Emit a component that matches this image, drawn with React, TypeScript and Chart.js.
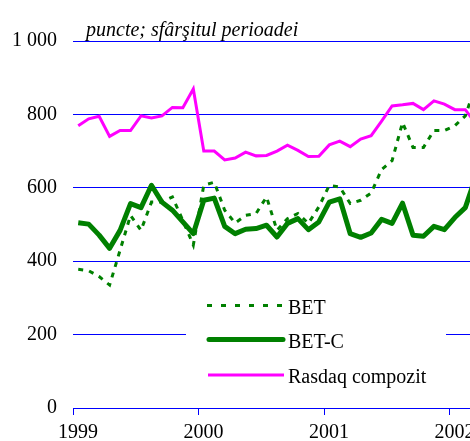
import React, { useEffect, useRef } from "react";
import { Chart, registerables } from "chart.js";

Chart.register(...registerables);

// Year labels shown on the x axis (one tick per January)
const YEAR_LABELS = ["1999", "2000", "2001", "2002"];
const TITLE = "puncte; sfârşitul perioadei";
const SERIES_NAMES = ["BET", "BET-C", "Rasdaq compozit"];
const Y_TICKS = [0, 200, 400, 600, 800, 1000];

// Monthly values, Jan 1999 onward (end of period)
const BET = [
  378, 374, 358, 335, 430, 525, 484, 561, 561, 575, 511, 444,
  607, 615, 539, 504, 525, 530, 575, 484, 516, 530, 503, 548,
  607, 602, 557, 566, 586, 650, 674, 778, 710, 710, 756, 756,
  769, 796, 880,
];
const BET_C = [
  505, 501, 471, 435, 484, 557, 546, 607, 561, 539, 507, 475,
  566, 572, 495, 475, 487, 489, 498, 466, 503, 516, 486, 507,
  561, 570, 475, 465, 477, 514, 503, 558, 471, 468, 495, 486,
  519, 546, 630,
];
const RASDAQ = [
  769, 788, 795, 740, 756, 756, 796, 790, 796, 819, 818, 869,
  700, 700, 676, 681, 697, 687, 688, 700, 716, 702, 685, 686,
  717, 727, 712, 733, 742, 782, 823, 826, 830, 813, 837, 828,
  813, 813, 775,
];

const GREEN = "#008000";
const MAGENTA = "#ff00ff";
const BLUE = "#0000ff";
const SERIF = '"Liberation Serif", "Times New Roman", serif';

const toPoints = (arr: number[]) => arr.map((y, i) => ({ x: i + 0.5, y }));

export default function App() {
  const ref = useRef<HTMLCanvasElement | null>(null);

  useEffect(() => {
    const canvas = ref.current;
    if (!canvas) return;

    const overlay = {
      id: "overlay",
      afterDatasetsDraw(chart: any) {
        const ctx = chart.ctx as CanvasRenderingContext2D;
        ctx.save();
        // legend box
        ctx.fillStyle = "#ffffff";
        ctx.fillRect(186, 292, 260, 98);
        // BET
        ctx.strokeStyle = GREEN;
        ctx.lineWidth = 3;
        ctx.setLineDash([5, 9]);
        ctx.beginPath();
        ctx.moveTo(207, 305.5);
        ctx.lineTo(286, 305.5);
        ctx.stroke();
        ctx.setLineDash([]);
        // BET-C
        ctx.lineWidth = 5;
        ctx.lineCap = "round";
        ctx.beginPath();
        ctx.moveTo(209, 339.5);
        ctx.lineTo(283, 339.5);
        ctx.stroke();
        // Rasdaq
        ctx.lineCap = "butt";
        ctx.strokeStyle = MAGENTA;
        ctx.lineWidth = 3;
        ctx.beginPath();
        ctx.moveTo(208, 375);
        ctx.lineTo(284, 375);
        ctx.stroke();
        // texts
        ctx.fillStyle = "#000000";
        ctx.font = `20px ${SERIF}`;
        ctx.textBaseline = "alphabetic";
        ctx.textAlign = "left";
        ctx.fillText(SERIES_NAMES[0], 288, 314);
        ctx.fillText(SERIES_NAMES[1], 288, 348);
        ctx.fillText(SERIES_NAMES[2], 288, 383);
        // title
        ctx.font = `italic 20px ${SERIF}`;
        ctx.fillText(TITLE, 86, 36);
        ctx.restore();
      },
    };

    const chart = new Chart(canvas, {
      type: "line",
      data: {
        datasets: [
          {
            label: SERIES_NAMES[1],
            data: toPoints(BET_C),
            borderColor: GREEN,
            borderWidth: 5,
            pointRadius: 0,
            borderJoinStyle: "round",
            tension: 0,
            order: 0,
          },
          {
            label: SERIES_NAMES[0],
            data: toPoints(BET),
            borderColor: GREEN,
            borderWidth: 3,
            borderDash: [5, 6],
            pointRadius: 0,
            tension: 0,
            order: 1,
          },
          {
            label: SERIES_NAMES[2],
            data: toPoints(RASDAQ),
            borderColor: MAGENTA,
            borderWidth: 3,
            pointRadius: 0,
            tension: 0,
            order: 2,
          },
        ],
      },
      options: {
        animation: false,
        responsive: false,
        devicePixelRatio: 1,
        layout: { padding: { top: 41, right: 9, left: 0, bottom: 0 } },
        plugins: {
          legend: { display: false },
          tooltip: { enabled: false },
          title: { display: false },
        },
        scales: {
          x: {
            type: "linear",
            min: 0,
            max: 39,
            afterBuildTicks: (scale: any) => {
              scale.ticks = YEAR_LABELS.map((_, i) => ({ value: i * 12 }));
            },
            afterFit: (scale: any) => {
              scale.height = 33;
            },
            ticks: {
              callback: (v: any) => YEAR_LABELS[Math.round(Number(v) / 12)] ?? "",
              color: "#000000",
              font: { family: SERIF, size: 20 },
              padding: 6,
              labelOffset: 5,
              maxRotation: 0,
              autoSkip: false,
            },
            grid: {
              drawOnChartArea: false,
              drawTicks: true,
              tickLength: 7,
              color: BLUE,
            },
            border: { display: true, color: BLUE, width: 1 },
          },
          y: {
            min: 0,
            max: 1000,
            afterBuildTicks: (scale: any) => {
              scale.ticks = Y_TICKS.map((v) => ({ value: v }));
            },
            afterFit: (scale: any) => {
              scale.width = 73;
            },
            ticks: {
              callback: (v: any) => (Number(v) === 1000 ? "1 000" : String(v)),
              color: "#000000",
              font: { family: SERIF, size: 20 },
              padding: 16,
            },
            grid: {
              color: BLUE,
              drawTicks: false,
              tickLength: 0,
            },
            border: { display: false },
          },
        },
      },
      plugins: [overlay],
    } as any);

    return () => chart.destroy();
  }, []);

  return (
    <div
      style={{
        position: "fixed",
        left: 0,
        top: 0,
        width: 470,
        height: 441,
        overflow: "hidden",
        background: "#ffffff",
      }}
    >
      <canvas ref={ref} width={490} height={441} style={{ display: "block" }} />
    </div>
  );
}
